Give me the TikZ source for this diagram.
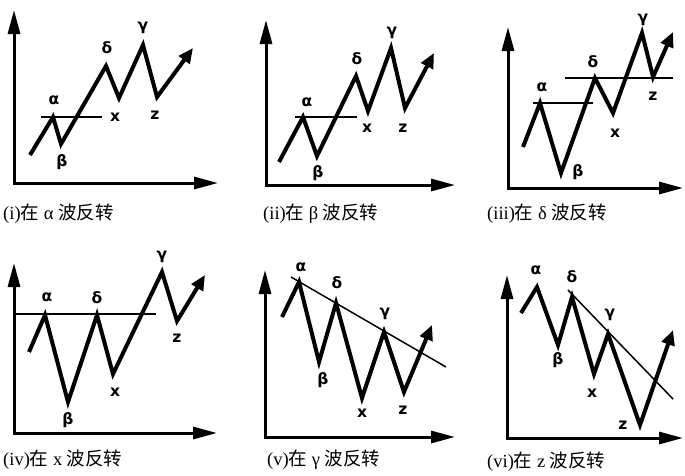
\documentclass[tikz,border=0pt]{standalone}
\usepackage{fontspec}
\setmainfont{Liberation Serif}
\newfontfamily\cjk{Noto Sans CJK SC}
\newfontfamily\lblfont{DejaVu Sans}
\usetikzlibrary{arrows.meta}
\begin{document}
\begin{tikzpicture}[x=1pt,y=-1pt,
  wave/.style={line width=4pt, line join=miter, -{Triangle[length=15pt,width=13pt]}},
  axis/.style={line width=3pt, line join=miter, {Triangle[length=24pt,width=12pt]}-{Triangle[length=24pt,width=12pt]}},
  level/.style={line width=1.5pt},
  lbl/.style={font=\lblfont\bfseries\fontsize{15.5}{15.5}\selectfont, inner sep=0pt},
  captext/.style={font=\fontsize{18.5}{18.5}\selectfont, inner sep=0pt, anchor=west}]
\useasboundingbox (0,0) rectangle (685,475);
% ---------- panel 1 ----------
\coordinate (o1) at (14,183); \coordinate (y1) at (14,10); \coordinate (x1) at (218,183);
\draw[axis] (y1) -- (o1) -- (x1);
\coordinate (s1) at (30,155); \coordinate (a1) at (53,117); \coordinate (b1) at (61,144);
\coordinate (d1) at (106,66); \coordinate (k1) at (119,98); \coordinate (g1) at (143,45);
\coordinate (z1) at (157,97); \coordinate (t1) at (193,48);
\coordinate (la1) at (41,117); \coordinate (lb1) at (102,117);
\draw[level] (la1) -- (lb1);
\draw[wave] (s1) -- (a1) -- (b1) -- (d1) -- (k1) -- (g1) -- (z1) -- (t1);
\node[lbl] (na1) at (54,100) {α};
\node[lbl] (nb1) at (62,162) {β};
\node[lbl] (nd1) at (107,48) {δ};
\node[lbl] (ng1) at (143,28) {γ};
\node[lbl] (nx1) at (115,117) {x};
\node[lbl] (nz1) at (155,115) {z};
\node[captext] (c1) at (3,214) {(i){\cjk 在} α {\cjk 波反转}};
% ---------- panel 2 ----------
\coordinate (o2) at (266,185); \coordinate (y2) at (266,20); \coordinate (x2) at (455,185);
\draw[axis] (y2) -- (o2) -- (x2);
\coordinate (s2) at (279,162); \coordinate (a2) at (303,117); \coordinate (b2) at (317,156);
\coordinate (d2) at (356,76); \coordinate (k2) at (368,111); \coordinate (g2) at (391,48);
\coordinate (z2) at (405,108); \coordinate (t2) at (434,53);
\coordinate (la2) at (295,117); \coordinate (lb2) at (357,117);
\draw[level] (la2) -- (lb2);
\draw[wave] (s2) -- (a2) -- (b2) -- (d2) -- (k2) -- (g2) -- (z2) -- (t2);
\node[lbl] (na2) at (307,102) {α};
\node[lbl] (nb2) at (318,173) {β};
\node[lbl] (nd2) at (357,59) {δ};
\node[lbl] (ng2) at (392,33) {γ};
\node[lbl] (nx2) at (367,128) {x};
\node[lbl] (nz2) at (403,128) {z};
\node[captext] (c2) at (263,214) {(ii){\cjk 在} β {\cjk 波反转}};
% ---------- panel 3 ----------
\coordinate (o3) at (508,188); \coordinate (y3) at (508,27); \coordinate (x3) at (683,188);
\draw[axis] (y3) -- (o3) -- (x3);
\coordinate (s3) at (523,147); \coordinate (a3) at (540,103); \coordinate (b3) at (561,173);
\coordinate (d3) at (595,78); \coordinate (k3) at (613,113); \coordinate (g3) at (642,33);
\coordinate (z3) at (653,77); \coordinate (t3) at (673,32);
\coordinate (la3) at (533,103); \coordinate (lb3) at (593,103);
\coordinate (lc3) at (565,78); \coordinate (ld3) at (673,78);
\draw[level] (la3) -- (lb3);
\draw[level] (lc3) -- (ld3);
\draw[wave] (s3) -- (a3) -- (b3) -- (d3) -- (k3) -- (g3) -- (z3) -- (t3);
\node[lbl] (na3) at (542,87) {α};
\node[lbl] (nb3) at (578,172) {β};
\node[lbl] (nd3) at (593,62) {δ};
\node[lbl] (ng3) at (643,20) {γ};
\node[lbl] (nx3) at (615,133) {x};
\node[lbl] (nz3) at (653,96) {z};
\node[captext] (c3) at (487,214) {(iii){\cjk 在} δ {\cjk 波反转}};
% ---------- panel 4 ----------
\coordinate (o4) at (14,433); \coordinate (y4) at (14,263); \coordinate (x4) at (217,433);
\draw[axis] (y4) -- (o4) -- (x4);
\coordinate (s4) at (29,352); \coordinate (a4) at (45,315); \coordinate (b4) at (68,402);
\coordinate (d4) at (97,315); \coordinate (k4) at (113,374); \coordinate (g4) at (162,272);
\coordinate (z4) at (177,321); \coordinate (t4) at (205,275);
\coordinate (la4) at (16,314); \coordinate (lb4) at (156,314);
\draw[level] (la4) -- (lb4);
\draw[wave] (s4) -- (a4) -- (b4) -- (d4) -- (k4) -- (g4) -- (z4) -- (t4);
\node[lbl] (na4) at (47,297) {α};
\node[lbl] (nb4) at (68,420) {β};
\node[lbl] (nd4) at (97,298) {δ};
\node[lbl] (ng4) at (162,257) {γ};
\node[lbl] (nx4) at (115,392) {x};
\node[lbl] (nz4) at (177,338) {z};
\node[captext] (c4) at (3,460) {(iv){\cjk 在} x {\cjk 波反转}};
% ---------- panel 5 ----------
\coordinate (o5) at (265,437); \coordinate (y5) at (265,270); \coordinate (x5) at (455,437);
\draw[axis] (y5) -- (o5) -- (x5);
\coordinate (s5) at (282,317); \coordinate (a5) at (299,282); \coordinate (b5) at (319,362);
\coordinate (d5) at (336,303); \coordinate (k5) at (362,398); \coordinate (g5) at (384,332);
\coordinate (z5) at (404,392); \coordinate (t5) at (432,325);
\coordinate (la5) at (291,277); \coordinate (lb5) at (446,367);
\draw[level] (la5) -- (lb5);
\draw[wave] (s5) -- (a5) -- (b5) -- (d5) -- (k5) -- (g5) -- (z5) -- (t5);
\node[lbl] (na5) at (301,267) {α};
\node[lbl] (nb5) at (323,380) {β};
\node[lbl] (nd5) at (337,283) {δ};
\node[lbl] (ng5) at (385,314) {γ};
\node[lbl] (nx5) at (362,413) {x};
\node[lbl] (nz5) at (403,410) {z};
\node[captext] (c5) at (267,460) {(v){\cjk 在} γ {\cjk 波反转}};
% ---------- panel 6 ----------
\coordinate (o6) at (507,438); \coordinate (y6) at (507,275); \coordinate (x6) at (683,438);
\draw[axis] (y6) -- (o6) -- (x6);
\coordinate (s6) at (521,313); \coordinate (a6) at (537,287); \coordinate (b6) at (558,345);
\coordinate (d6) at (572,297); \coordinate (k6) at (594,374); \coordinate (g6) at (608,334);
\coordinate (z6) at (640,425); \coordinate (t6) at (673,330);
\coordinate (la6) at (568,290); \coordinate (lb6) at (673,399);
\draw[level] (la6) -- (lb6);
\draw[wave] (s6) -- (a6) -- (b6) -- (d6) -- (k6) -- (g6) -- (z6) -- (t6);
\node[lbl] (na6) at (536,270) {α};
\node[lbl] (nb6) at (558,360) {β};
\node[lbl] (nd6) at (572,277) {δ};
\node[lbl] (ng6) at (610,315) {γ};
\node[lbl] (nx6) at (592,393) {x};
\node[lbl] (nz6) at (623,425) {z};
\node[captext] (c6) at (487,462) {(vi){\cjk 在} z {\cjk 波反转}};
\end{tikzpicture}
\end{document}
